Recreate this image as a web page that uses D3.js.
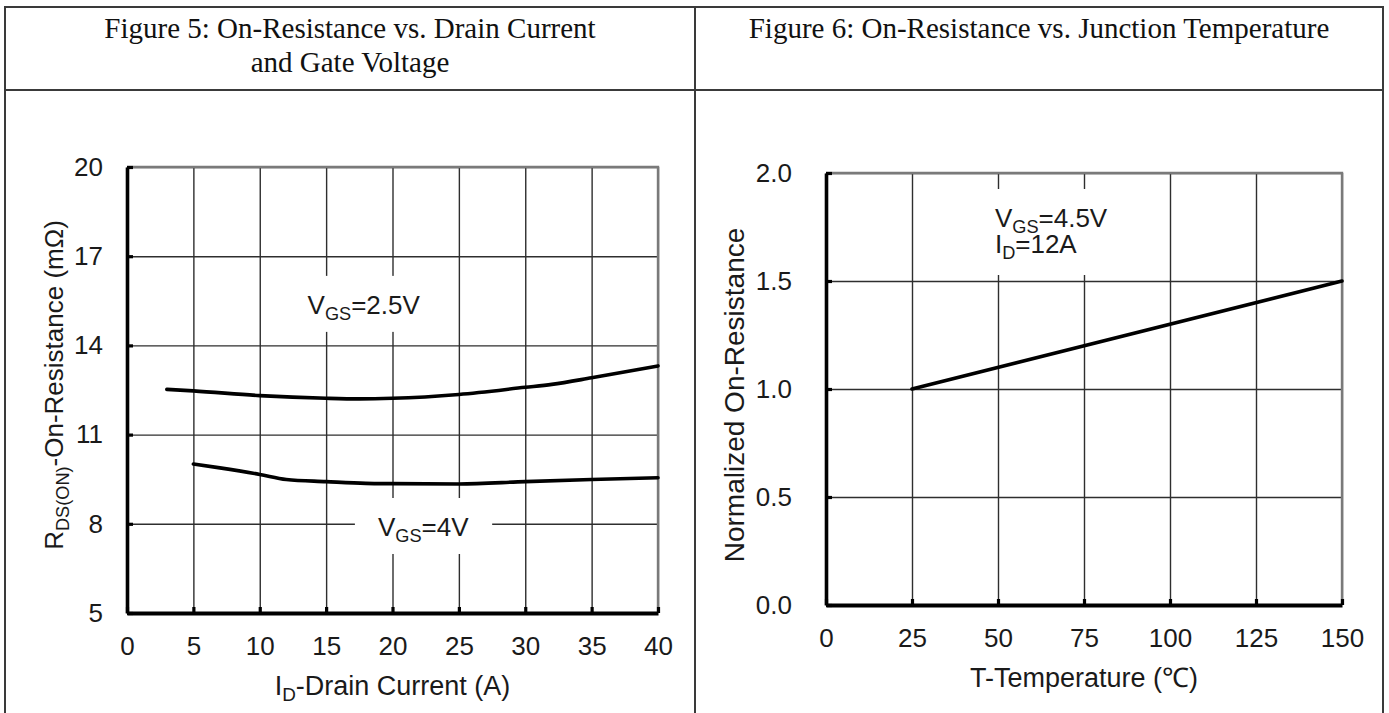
<!DOCTYPE html>
<html><head><meta charset="utf-8">
<script src="https://cdn.jsdelivr.net/npm/d3@7"></script>
<style>body{margin:0;background:#fff} svg{display:block}</style>
</head><body><svg id="c" width="1389" height="713"></svg>
<script>
// ---------- data ----------
const fig5Title = ["Figure 5: On-Resistance vs. Drain Current", "and Gate Voltage"];
const fig6Title = ["Figure 6: On-Resistance vs. Junction Temperature"];
const currentTicks = [0, 5, 10, 15, 20, 25, 30, 35, 40];
const resistanceTicks = [5, 8, 11, 14, 17, 20];
const vgs25Current = [3, 5, 10, 15, 17.5, 20, 25, 30, 32, 35, 40];
const vgs25Res = [12.52, 12.47, 12.31, 12.22, 12.2, 12.22, 12.35, 12.59, 12.69, 12.91, 13.31];
const vgs4Current = [5, 7, 10, 12, 15, 18, 20, 25, 30, 35, 40];
const vgs4Res = [10.01, 9.88, 9.66, 9.49, 9.42, 9.36, 9.35, 9.34, 9.42, 9.49, 9.55];
const tempTicks = [0, 25, 50, 75, 100, 125, 150];
const normTicks = [0.0, 0.5, 1.0, 1.5, 2.0];
const tempData = [25, 150];
const normData = [1.0, 1.5];

// ---------- drawing ----------
const svg = d3.select("#c");
const SANS = "Arial, 'Liberation Sans', Helvetica, sans-serif";
const SERIF = "'Liberation Serif', 'Times New Roman', Times, serif";
svg.append("rect").attr("width", 1389).attr("height", 713).attr("fill", "#fff");

// table frame
const T = {l: 5, r: 1383, t: 7, mid: 695, h: 90, b: 760};
const tg = svg.append("g").attr("stroke", "#3a3a3a").attr("stroke-width", 2).attr("fill", "none");
tg.append("path").attr("d", `M${T.l},${T.b}V${T.t}H${T.r}V${T.b}`);
tg.append("line").attr("x1", T.l).attr("x2", T.r).attr("y1", T.h).attr("y2", T.h);
tg.append("line").attr("x1", T.mid).attr("x2", T.mid).attr("y1", T.t).attr("y2", T.b);

function header(lines, cx) {
  const t = svg.append("text").attr("font-family", SERIF).attr("font-size", 29)
    .attr("fill", "#111").attr("text-anchor", "middle");
  lines.forEach((s, i) => t.append("tspan").attr("x", cx).attr("y", 38 + i * 34).text(s));
}
header(fig5Title, (T.l + T.mid) / 2);
header(fig6Title, (T.mid + T.r) / 2);

// one <text> with one or more lines; each line = list of [string, "sub"|"back"|undefined]
function subText(g, lines, attrs, size, lh, x0) {
  const t = g.append("text").attr("font-family", SANS).attr("font-size", size || 26).attr("fill", "#1a1a1a");
  Object.entries(attrs).forEach(([k, v]) => t.attr(k, v));
  lines.forEach((parts, li) => {
    parts.forEach((p, pi) => {
      const ts = t.append("tspan").text(p[0]);
      if (li > 0 && pi === 0) ts.attr("x", x0).attr("dy", lh);
      if (p[1] === "sub") ts.attr("font-size", "0.7em").attr("dy", 6);
      if (p[1] === "back") ts.attr("dy", -6);
    });
  });
  return t;
}

function panel(o) {
  const g = svg.append("g");
  const x = d3.scaleLinear().domain(o.xDomain).range([o.x0, o.x1]);
  const y = d3.scaleLinear().domain(o.yDomain).range([o.y1, o.y0]);

  // grid
  g.append("g").attr("transform", `translate(0,${o.y1})`)
    .call(d3.axisBottom(x).tickValues(o.xTicks).tickSize(-(o.y1 - o.y0)).tickFormat(""))
    .call(s => s.select(".domain").remove())
    .call(s => s.selectAll("line").attr("stroke", "#2e2e2e").attr("stroke-width", 1.4));
  g.append("g").attr("transform", `translate(${o.x0},0)`)
    .call(d3.axisLeft(y).tickValues(o.yTicks).tickSize(-(o.x1 - o.x0)).tickFormat(""))
    .call(s => s.select(".domain").remove())
    .call(s => s.selectAll("line").attr("stroke", "#2e2e2e").attr("stroke-width", 1.4));

  // top/right border
  g.append("path").attr("d", `M${o.x0},${o.y0}H${o.x1}V${o.y1}`)
    .attr("fill", "none").attr("stroke", "#7a7a7a").attr("stroke-width", 2.4);

  // annotations with white knock-out boxes
  o.notes.forEach(n => {
    const ng = g.append("g");
    const box = ng.append("rect").attr("fill", "#fff");
    const t = subText(ng, n.lines, {x: x(n.x), y: y(n.y)}, 26, n.lh, x(n.x));
    const b = t.node().getBBox();
    box.attr("x", b.x - n.px).attr("y", b.y - n.pt)
      .attr("width", b.width + 2 * n.px).attr("height", b.height + n.pt + n.pb);
  });

  // curves
  const line = d3.line().x(d => x(d[0])).y(d => y(d[1])).curve(o.curve);
  o.series.forEach(s => g.append("path").datum(s).attr("d", line)
    .attr("fill", "none").attr("stroke", "#000").attr("stroke-width", 3.6)
    .attr("stroke-linecap", "round").attr("stroke-linejoin", "round"));

  // axes
  const ya = g.append("g").attr("transform", `translate(${o.x0},0)`)
    .call(d3.axisLeft(y).tickValues(o.yTicks).tickSizeInner(-6).tickSizeOuter(0)
      .tickPadding(o.yPad).tickFormat(o.yFmt))
    .attr("font-size", 26).attr("font-family", SANS);
  ya.select(".domain").attr("stroke", "#000").attr("stroke-width", 3.6);
  ya.selectAll(".tick line").attr("stroke", "#000").attr("stroke-width", 3.2);
  ya.selectAll(".tick text").attr("fill", "#1a1a1a");

  const xa = g.append("g").attr("transform", `translate(0,${o.y1})`)
    .call(d3.axisBottom(x).tickValues(o.xTicks).tickSizeInner(-6).tickSizeOuter(0)
      .tickPadding(24).tickFormat(d3.format("d")))
    .attr("font-size", 26).attr("font-family", SANS);
  xa.select(".domain").attr("stroke", "#000").attr("stroke-width", 4);
  xa.selectAll(".tick line").attr("stroke", "#000").attr("stroke-width", 3.2);
  xa.selectAll(".tick text").attr("fill", "#1a1a1a");

  // axis titles
  subText(g, [o.xTitle], {x: (o.x0 + o.x1) / 2, y: o.xTitleY, "text-anchor": "middle"}, 27);
  subText(g, [o.yTitle], {transform: `translate(${o.yTitleX},${o.yTitleCY}) rotate(-90)`,
    "text-anchor": "middle"}, o.yTitleSize);
}

panel({
  x0: 127, x1: 658, y0: 167, y1: 613,
  xDomain: [0, 40], yDomain: [5, 20],
  xTicks: currentTicks, yTicks: resistanceTicks,
  yFmt: d3.format("d"), yPad: 24,
  curve: d3.curveMonotoneX,
  series: [d3.zip(vgs25Current, vgs25Res), d3.zip(vgs4Current, vgs4Res)],
  notes: [
    {x: 13.6, y: 15.06, lh: 0, px: 23, pt: 14, pb: 8,
      lines: [[["V"], ["GS", "sub"], ["=2.5V", "back"]]]},
    {x: 18.9, y: 7.59, lh: 0, px: 23, pt: 14, pb: 8,
      lines: [[["V"], ["GS", "sub"], ["=4V", "back"]]]}
  ],
  xTitle: [["I"], ["D", "sub"], ["-Drain Current (A)", "back"]], xTitleY: 695,
  yTitle: [["R"], ["DS(ON)", "sub"], ["-On-Resistance (mΩ)", "back"]],
  yTitleX: 63, yTitleCY: 385, yTitleSize: 26
});

panel({
  x0: 826, x1: 1342, y0: 173, y1: 605,
  xDomain: [0, 150], yDomain: [0, 2],
  xTicks: tempTicks, yTicks: normTicks,
  yFmt: d3.format(".1f"), yPad: 34,
  curve: d3.curveLinear,
  series: [d3.zip(tempData, normData)],
  notes: [
    {x: 49.1, y: 1.75, lh: 26, px: 23, pt: 14, pb: 12,
      lines: [[["V"], ["GS", "sub"], ["=4.5V", "back"]], [["I"], ["D", "sub"], ["=12A", "back"]]]}
  ],
  xTitle: [["T-Temperature (℃)"]], xTitleY: 687,
  yTitle: [["Normalized On-Resistance"]], yTitleX: 744, yTitleCY: 395, yTitleSize: 28
});
</script>
</body></html>
